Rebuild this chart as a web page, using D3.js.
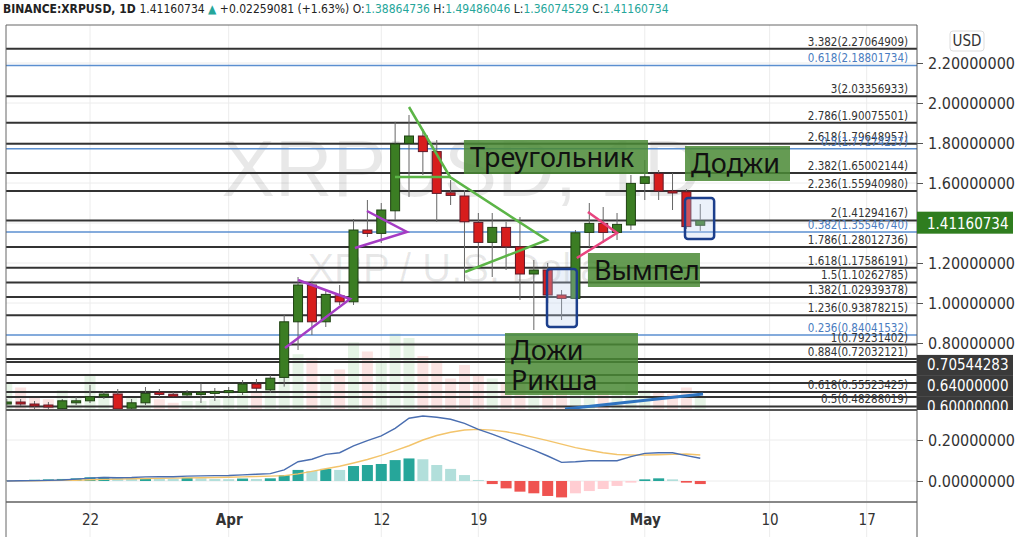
<!DOCTYPE html>
<html>
<head>
<meta charset="utf-8">
<script src="https://cdn.jsdelivr.net/npm/d3@7"></script>
<style>
  body { margin: 0; background: #fff; }
  svg { display: block; }
</style>
</head>
<body>
<script>
// Global consts
var w = 1024;
var h = 537;
var NARROW = "'Liberation Sans Narrow', 'Arial Narrow', 'DejaVu Sans Condensed', sans-serif";
var BOXFONT = "'Noto Sans', 'Open Sans', sans-serif";

// daily candles, first one is 16 Mar 2021
var firstDay = Date.UTC(2021, 2, 16);
var opens  = [0.500, 0.505, 0.495, 0.490, 0.472, 0.503, 0.511, 0.532, 0.545, 0.474, 0.501, 0.553, 0.544, 0.541, 0.550, 0.552, 0.558,
              0.553, 0.595, 0.566, 0.628, 0.906, 1.090, 0.906, 1.036, 1.006, 1.365, 1.348, 1.461, 1.798, 1.835, 1.757, 1.551,
              1.535, 1.403, 1.303, 1.378, 1.281, 1.145, 1.165, 1.040, 1.023, 1.353, 1.398, 1.353, 1.390, 1.598, 1.648, 1.560,
              1.556, 1.38864736];
var highs  = [0.520, 0.520, 0.510, 0.505, 0.520, 0.530, 0.590, 0.560, 0.570, 0.520, 0.580, 0.570, 0.555, 0.565, 0.598, 0.575, 0.580,
              0.615, 0.620, 0.640, 0.940, 1.130, 1.110, 1.060, 1.090, 1.420, 1.515, 1.500, 1.906, 1.940, 1.870, 1.815, 1.615,
              1.565, 1.450, 1.450, 1.406, 1.430, 1.215, 1.200, 1.065, 1.365, 1.500, 1.480, 1.450, 1.640, 1.715, 1.665, 1.650,
              1.570, 1.49486046];
var lows   = [0.480, 0.485, 0.470, 0.470, 0.465, 0.490, 0.500, 0.520, 0.465, 0.465, 0.490, 0.530, 0.530, 0.535, 0.500, 0.510, 0.530,
              0.540, 0.560, 0.550, 0.582, 0.765, 0.840, 0.880, 0.990, 0.990, 1.330, 1.300, 1.415, 1.530, 1.640, 1.406, 1.490,
              1.106, 1.180, 1.130, 1.165, 1.015, 0.865, 1.000, 0.915, 1.020, 1.280, 1.300, 1.315, 1.365, 1.515, 1.515, 1.465,
              1.370, 1.36074529];
var closes = [0.505, 0.495, 0.490, 0.482, 0.511, 0.511, 0.531, 0.545, 0.470, 0.501, 0.548, 0.543, 0.541, 0.550, 0.552, 0.558, 0.562,
              0.595, 0.574, 0.624, 0.906, 1.090, 0.906, 1.043, 1.006, 1.365, 1.348, 1.465, 1.795, 1.835, 1.757, 1.548, 1.538,
              1.406, 1.303, 1.378, 1.281, 1.145, 1.165, 1.040, 1.023, 1.351, 1.398, 1.353, 1.393, 1.598, 1.631, 1.560, 1.552,
              1.382, 1.41160734];
var volumes = [30, 25, 15, 12, 22, 14, 38, 18, 20, 15, 22, 12, 8, 10, 10, 12, 14,
               18, 20, 22, 45, 62, 58, 40, 45, 75, 65, 55, 85, 80, 60, 55, 35,
               50, 40, 35, 30, 38, 30, 32, 25, 40, 25, 22, 20, 30, 22, 20, 18,
               25, 15];

// MACD (12, 26, 9)
var macdLine   = [0.000, 0.001, 0.002, 0.003, 0.005, 0.009, 0.014, 0.017, 0.016, 0.017, 0.020, 0.021, 0.021, 0.024, 0.025, 0.026, 0.027,
                  0.030, 0.033, 0.036, 0.054, 0.094, 0.106, 0.130, 0.138, 0.171, 0.197, 0.220, 0.257, 0.306, 0.317, 0.311, 0.301,
                  0.281, 0.252, 0.229, 0.203, 0.176, 0.151, 0.122, 0.091, 0.094, 0.099, 0.099, 0.099, 0.119, 0.135, 0.138, 0.138,
                  0.124, 0.111];
var signalLine = [0.000, 0.0005, 0.001, 0.002, 0.003, 0.004, 0.006, 0.008, 0.009, 0.011, 0.012, 0.013, 0.014, 0.015, 0.016, 0.017, 0.018,
                  0.020, 0.022, 0.024, 0.026, 0.035, 0.047, 0.060, 0.072, 0.088, 0.105, 0.125, 0.148, 0.172, 0.200, 0.222, 0.238,
                  0.249, 0.252, 0.248, 0.240, 0.228, 0.213, 0.197, 0.180, 0.163, 0.150, 0.138, 0.129, 0.127, 0.127, 0.128, 0.130,
                  0.132, 0.127];
var macdHist   = [0.002, 0.004, 0.006, 0.008, 0.010, 0.013, 0.018, 0.020, 0.015, 0.012, 0.014, 0.012, 0.011, 0.016, 0.013, 0.010, 0.009,
                  0.012, 0.010, 0.013, 0.029, 0.054, 0.049, 0.059, 0.054, 0.073, 0.078, 0.083, 0.102, 0.110, 0.106, 0.078, 0.059,
                  0.029, 0.005, -0.015, -0.036, -0.052, -0.060, -0.073, -0.080, -0.060, -0.049, -0.039, -0.024, -0.008, 0.008, 0.013, 0.008,
                  -0.008, -0.015];

// fib extension (black) and retracement (blue)
var fibLevels = ['3.382', '3', '2.786', '2.618', '2.382', '2.236', '2', '1.786', '1.618', '1.5', '1.382', '1.236', '1', '0.884', '0.618', '0.5'];
var fibPrices = [2.27064909, 2.03356933, 1.90075501, 1.79648957, 1.65002144, 1.55940980, 1.41294167, 1.28012736, 1.17586191,
                 1.10262785, 1.02939378, 0.93878215, 0.79231402, 0.72032121, 0.55523425, 0.48288019];
var blueLevels = ['0.618', '0.5', '0.382', '0.236'];
var bluePrices = [2.18801734, 1.77174237, 1.35546740, 0.84041532];
var hLinePrices = [0.70544283, 0.64, 0.60];
var extraLinePrices = [0.53];

var priceTicks = [2.2, 2.0, 1.8, 1.6, 1.2, 1.0, 0.8];
var gridPrices = [2.2, 2.0, 1.8, 1.6, 1.4, 1.2, 1.0, 0.8];
var macdTicks = [0.2, 0.0];
var dateTicks = [Date.UTC(2021, 2, 22), Date.UTC(2021, 3, 1), Date.UTC(2021, 3, 12), Date.UTC(2021, 3, 19),
                 Date.UTC(2021, 4, 1), Date.UTC(2021, 4, 10), Date.UTC(2021, 4, 17)];
var dateTickLabels = ['22', 'Apr', '12', '19', 'May', '10', '17'];

// drawings: [days after 22 Mar, price]
var purpleA = [[15.0, 1.115], [18.75, 1.02], [14.06, 0.775]];
var purpleB = [[19.97, 1.46], [22.85, 1.355], [19.1, 1.275]];
var greenTop = [[23.0, 1.98], [25.96, 1.63], [32.95, 1.315], [27.04, 1.155]];
var greenMid = [[21.99, 1.63], [25.96, 1.63]];
var pinkLine = [[35.9, 1.455], [38.0, 1.35], [35.1, 1.225]];
var blueTrend = [[34.25, 0.47], [44.2, 0.545]];
var boxesBlue = [[32.95, 35.1, 1.17, 0.88], [42.9, 45.0, 1.525, 1.32]];
var labelBoxes = [
    { lines: ['Треугольник'], d0: 26.96, d1: 40.23, p0: 1.815, p1: 1.645 },
    { lines: ['Доджи'], d0: 42.9, d1: 50.47, p0: 1.785, p1: 1.61 },
    { lines: ['Вымпел'], d0: 35.9, d1: 43.98, p0: 1.25, p1: 1.08 },
    { lines: ['Дожи', 'Рикша'], d0: 29.92, d1: 39.51, p0: 0.85, p1: 0.54 }
];

var lastPrice = 1.41160734;

var paneL = 6, paneR = 917, paneT = 25, paneB = 410, macdB = 502, labelW = 96;

var svg = d3.select('body').append('svg').attr('width', w).attr('height', h);

var x = d3.scaleUtc()
    .domain([new Date(Date.UTC(2021, 2, 22)), new Date(Date.UTC(2021, 4, 17))])
    .range([90, 866.7]);
var y = d3.scaleLinear().domain([0.6, 2.2]).range([383, 63]);
var mY = d3.scaleLinear().domain([0, 0.2]).range([481, 440]);
var volH = d3.scaleLinear().domain([0, 100]).range([0, 90]);

function dayX(i) { return x(new Date(firstDay + i * 864e5)); }
function drawX(d) { return x(new Date(Date.UTC(2021, 2, 22) + d * 864e5)); }

var candles = opens.map(function (o, i) {
    return { i: i, o: o, h: highs[i], l: lows[i], c: closes[i], v: volumes[i],
             macd: macdLine[i], sig: signalLine[i], hist: macdHist[i] };
});

createPlot();

function createPlot() {
    var defs = svg.append('defs');
    defs.append('clipPath').attr('id', 'clipPrice').append('rect')
        .attr('x', paneL).attr('y', paneT).attr('width', paneR - paneL).attr('height', paneB - paneT);
    defs.append('clipPath').attr('id', 'clipMacd').append('rect')
        .attr('x', paneL).attr('y', paneB).attr('width', paneR - paneL).attr('height', macdB - paneB);
    defs.append('clipPath').attr('id', 'clipAxis').append('rect')
        .attr('x', paneR).attr('y', paneT).attr('width', w - paneR).attr('height', paneB - paneT);

    drawHeader();
    drawGrid();
    var price = svg.append('g').attr('clip-path', 'url(#clipPrice)');
    drawWatermark(price);
    drawVolume(price);
    drawFib(price);
    drawCandles(price);
    drawShapes(price);
    drawMacd();
    drawFrame();
    drawAxes();
}

function drawHeader() {
    var t = svg.append('text').attr('x', 3).attr('y', 13)
        .style('font-family', NARROW).style('font-size', '12px').attr('fill', '#222');
    var parts = [
        ['BINANCE:XRPUSD, 1D ', '#222', 'bold'],
        ['1.41160734 ', '#222', 'normal'],
        ['\u25B2', '#26a69a', 'normal'],
        [' +0.02259081 (+1.63%) ', '#222', 'normal'],
        ['O:', '#222', 'normal'], ['1.38864736 ', '#26a69a', 'normal'],
        ['H:', '#222', 'normal'], ['1.49486046 ', '#26a69a', 'normal'],
        ['L:', '#222', 'normal'], ['1.36074529 ', '#26a69a', 'normal'],
        ['C:', '#222', 'normal'], ['1.41160734', '#26a69a', 'normal']
    ];
    parts.forEach(function (p) {
        t.append('tspan').text(p[0]).attr('fill', p[1]).style('font-weight', p[2]).attr('xml:space', 'preserve');
    });
}

function drawGrid() {
    var g = svg.append('g');
    g.selectAll('.vgrid').data(dateTicks).enter().append('line')
        .attr('x1', function (d) { return x(d); }).attr('x2', function (d) { return x(d); })
        .attr('y1', paneT).attr('y2', h)
        .attr('stroke', '#ececec').attr('stroke-width', 1);
    g.selectAll('.hgrid').data(gridPrices).enter().append('line')
        .attr('x1', paneL).attr('x2', paneR)
        .attr('y1', function (d) { return y(d); }).attr('y2', function (d) { return y(d); })
        .attr('stroke', '#ececec');
    g.selectAll('.mgrid').data(macdTicks).enter().append('line')
        .attr('x1', paneL).attr('x2', paneR)
        .attr('y1', function (d) { return mY(d); }).attr('y2', function (d) { return mY(d); })
        .attr('stroke', '#ececec');
}

function drawWatermark(g) {
    var cx = (paneL + paneR) / 2;
    g.append('text').attr('x', cx).attr('y', 196).attr('text-anchor', 'middle')
        .style('font-family', "'Liberation Sans', Arial, sans-serif").style('font-size', '80px')
        .attr('fill', '#000').attr('fill-opacity', 0.09).text('XRPUSD, 1D');
    g.append('text').attr('x', cx).attr('y', 282).attr('text-anchor', 'middle')
        .style('font-family', "'Liberation Sans', Arial, sans-serif").style('font-size', '40px')
        .attr('fill', '#000').attr('fill-opacity', 0.09).text('XRP / U.S. Dollar');
}

function drawVolume(g) {
    g.selectAll('.vol').data(candles).enter().append('rect')
        .attr('x', function (d) { return dayX(d.i) - 5.5; })
        .attr('width', 11)
        .attr('y', function (d) { return paneB - volH(d.v); })
        .attr('height', function (d) { return volH(d.v); })
        .attr('fill', function (d) { return d.c >= d.o ? '#4caf50' : '#e53935'; })
        .attr('fill-opacity', 0.14);
}

function drawFib(g) {
    var all = fibPrices.concat(hLinePrices, extraLinePrices);
    g.selectAll('.fib').data(all).enter().append('line')
        .attr('x1', paneL).attr('x2', paneR)
        .attr('y1', function (d) { return y(d); }).attr('y2', function (d) { return y(d); })
        .attr('stroke', '#333').attr('stroke-width', 2);
    g.selectAll('.blue').data(bluePrices).enter().append('line')
        .attr('x1', paneL).attr('x2', paneR)
        .attr('y1', function (d) { return y(d); }).attr('y2', function (d) { return y(d); })
        .attr('stroke', '#5b8fd0').attr('stroke-width', 1.5);

    fibPrices.forEach(function (p, i) {
        g.append('text').attr('x', 908).attr('y', y(p) - 3).attr('text-anchor', 'end')
            .style('font-family', NARROW).style('font-size', '11.5px').attr('fill', '#333')
            .text(fibLevels[i] + '(' + p.toFixed(8) + ')');
    });
    bluePrices.forEach(function (p, i) {
        g.append('text').attr('x', 908).attr('y', y(p) - 3).attr('text-anchor', 'end')
            .style('font-family', NARROW).style('font-size', '11.5px').attr('fill', '#4a7cc0')
            .text(blueLevels[i] + '(' + p.toFixed(8) + ')');
    });
}

function drawCandles(g) {
    var cg = g.append('g');
    cg.selectAll('.wick').data(candles).enter().append('line')
        .attr('x1', function (d) { return dayX(d.i); }).attr('x2', function (d) { return dayX(d.i); })
        .attr('y1', function (d) { return y(d.h); }).attr('y2', function (d) { return y(d.l); })
        .attr('stroke', '#666').attr('stroke-width', 1);
    cg.selectAll('.body').data(candles).enter().append('rect')
        .attr('x', function (d) { return dayX(d.i) - 4.5; })
        .attr('width', 9)
        .attr('y', function (d) { return y(Math.max(d.o, d.c)); })
        .attr('height', function (d) { return Math.max(2, Math.abs(y(d.o) - y(d.c))); })
        .attr('fill', function (d) { return d.c >= d.o ? '#3b7d23' : '#d71d1d'; })
        .attr('stroke', function (d) { return d.c >= d.o ? '#1f4212' : '#5e1a2a'; })
        .attr('stroke-width', 1);
}

function drawShapes(g) {
    var line = d3.line()
        .x(function (d) { return drawX(d[0]); })
        .y(function (d) { return y(d[1]); });
    [[purpleA, '#a53cc4'], [purpleB, '#a53cc4'], [greenTop, '#5cb547'], [greenMid, '#5cb547'],
     [pinkLine, '#e8457f'], [blueTrend, '#2f74c0']].forEach(function (s) {
        g.append('path').attr('d', line(s[0])).attr('fill', 'none')
            .attr('stroke', s[1]).attr('stroke-width', s[1] === '#2f74c0' ? 3 : 2.5);
    });

    g.selectAll('.bbox').data(boxesBlue).enter().append('rect')
        .attr('x', function (d) { return drawX(d[0]); })
        .attr('y', function (d) { return y(d[2]); })
        .attr('width', function (d) { return drawX(d[1]) - drawX(d[0]); })
        .attr('height', function (d) { return y(d[3]) - y(d[2]); })
        .attr('rx', 3)
        .attr('fill', '#bcd0f0').attr('fill-opacity', 0.3)
        .attr('stroke', '#1c3f8c').attr('stroke-width', 2.5);

    labelBoxes.forEach(function (b) {
        var x0 = drawX(b.d0), x1 = drawX(b.d1), y0 = y(b.p0), y1 = y(b.p1);
        g.append('rect').attr('x', x0).attr('y', y0).attr('width', x1 - x0).attr('height', y1 - y0)
            .attr('fill', '#4a8a35').attr('fill-opacity', 0.85);
        b.lines.forEach(function (txt, k) {
            g.append('text').attr('x', x0 + 6).attr('y', y0 + 27 + k * 30)
                .style('font-family', BOXFONT).style('font-size', '27px').attr('fill', '#111')
                .text(txt);
        });
    });
}

function drawMacd() {
    var g = svg.append('g').attr('clip-path', 'url(#clipMacd)');
    g.selectAll('.hist').data(candles).enter().append('rect')
        .attr('x', function (d) { return dayX(d.i) - 5.5; })
        .attr('width', 11)
        .attr('y', function (d) { return mY(Math.max(0, d.hist)); })
        .attr('height', function (d) { return Math.abs(mY(d.hist) - mY(0)); })
        .attr('fill', function (d) {
            var prev = d.i > 0 ? macdHist[d.i - 1] : d.hist;
            if (d.hist >= 0) return d.hist >= prev ? '#26a69a' : '#b2dfdb';
            return d.hist <= prev ? '#ef5350' : '#ffcdd2';
        });
    g.append('path').datum(candles)
        .attr('d', d3.line().x(function (d) { return dayX(d.i); }).y(function (d) { return mY(d.sig); }))
        .attr('fill', 'none').attr('stroke', '#f3c46b').attr('stroke-width', 1.4);
    g.append('path').datum(candles)
        .attr('d', d3.line().x(function (d) { return dayX(d.i); }).y(function (d) { return mY(d.macd); }))
        .attr('fill', 'none').attr('stroke', '#4a6eb0').attr('stroke-width', 1.4);
}

function drawFrame() {
    svg.append('line').attr('x1', paneL).attr('x2', paneR).attr('y1', paneT).attr('y2', paneT)
        .attr('stroke', '#666').attr('stroke-width', 1);
    svg.append('line').attr('x1', paneL).attr('x2', paneR).attr('y1', paneB).attr('y2', paneB)
        .attr('stroke', '#555').attr('stroke-width', 2);
    svg.append('line').attr('x1', paneL).attr('x2', paneR).attr('y1', macdB).attr('y2', macdB)
        .attr('stroke', '#888').attr('stroke-width', 2);
    svg.append('line').attr('x1', paneL).attr('x2', paneL).attr('y1', paneT).attr('y2', h)
        .attr('stroke', '#666').attr('stroke-width', 1);
    svg.append('line').attr('x1', paneR).attr('x2', paneR).attr('y1', paneT).attr('y2', h)
        .attr('stroke', '#555').attr('stroke-width', 1);
}

function drawAxes() {
    var axisFont = function (sel) {
        sel.select('.domain').remove();
        sel.selectAll('text').style('font-family', NARROW).style('font-size', '16px').attr('fill', '#333');
        sel.selectAll('line').attr('stroke', '#555');
    };
    svg.append('g').attr('transform', 'translate(' + paneR + ',0)')
        .call(d3.axisRight(y).tickValues(priceTicks).tickFormat(d3.format('.8f')).tickSize(6).tickPadding(5))
        .call(axisFont);
    svg.append('g').attr('transform', 'translate(' + paneR + ',0)')
        .call(d3.axisRight(mY).tickValues(macdTicks).tickFormat(d3.format('.8f')).tickSize(6).tickPadding(5))
        .call(axisFont);

    // USD button
    svg.append('rect').attr('x', 950).attr('y', 31).attr('width', 34).attr('height', 20).attr('rx', 3)
        .attr('fill', '#fff').attr('stroke', '#ddd');
    svg.append('text').attr('x', 967).attr('y', 46).attr('text-anchor', 'middle')
        .style('font-family', NARROW).style('font-size', '15px').attr('fill', '#333').text('USD');

    // horizontal line price labels, pushed down so they do not overlap
    var lab = svg.append('g').attr('clip-path', 'url(#clipAxis)');
    var prevY = -100;
    hLinePrices.forEach(function (p) {
        var cy = Math.max(y(p) + 3, prevY + 21);
        prevY = cy;
        lab.append('rect').attr('x', paneR).attr('y', cy - 10).attr('width', labelW).attr('height', 21)
            .attr('fill', '#3a3a3a');
        lab.append('text').attr('x', 927).attr('y', cy + 5.5)
            .style('font-family', NARROW).style('font-size', '15px').attr('fill', '#fff')
            .text(p.toFixed(8));
    });

    // last price label
    var ly = y(lastPrice) + 2;
    svg.append('rect').attr('x', paneR).attr('y', ly - 11).attr('width', labelW).attr('height', 22)
        .attr('fill', '#2f7d1f');
    svg.append('text').attr('x', 927).attr('y', ly + 6)
        .style('font-family', NARROW).style('font-size', '15px').attr('fill', '#fff')
        .text(lastPrice.toFixed(8));

    // date axis
    var dAxis = svg.append('g').attr('transform', 'translate(0,' + (macdB + 6) + ')')
        .call(d3.axisBottom(x).tickValues(dateTicks.map(function (d) { return new Date(d); }))
            .tickFormat(function (d, i) { return dateTickLabels[i]; }).tickSize(0).tickPadding(6));
    dAxis.select('.domain').remove();
    dAxis.selectAll('text').style('font-family', NARROW).style('font-size', '15px').attr('fill', '#333')
        .style('font-weight', function (d, i) { return (dateTickLabels[i] === 'Apr' || dateTickLabels[i] === 'May') ? 'bold' : 'normal'; });
}
</script>
</body>
</html>
